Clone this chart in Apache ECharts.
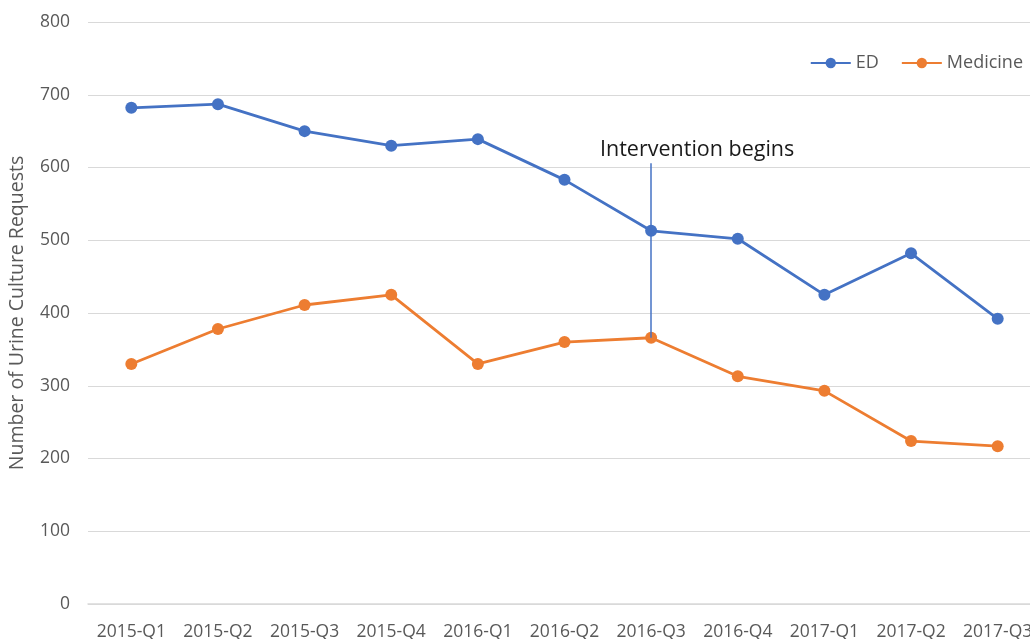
<!DOCTYPE html>
<html>
<head>
<meta charset="utf-8">
<script src="https://cdn.jsdelivr.net/npm/echarts@6/dist/echarts.min.js"></script>
<style>
  html, body { margin: 0; padding: 0; background: #fff; }
  #main { width: 1030px; height: 639px; }
</style>
</head>
<body>
<div id="main"></div>
<script>
// quarters on the x axis
const quarters = ['2015-Q1', '2015-Q2', '2015-Q3', '2015-Q4', '2016-Q1', '2016-Q2',
  '2016-Q3', '2016-Q4', '2017-Q1', '2017-Q2', '2017-Q3'];
// urine culture requests
const edValues = [682, 687, 650, 630, 639, 583, 513, 502, 425, 482, 392];
const medicineValues = [330, 378, 411, 425, 330, 360, 366, 313, 293, 224, 217];
// intervention marker
const interventionIndex = 6;
const interventionTop = 606;
const interventionText = 'Intervention begins';

const font = 'Open Sans';
let myChart = echarts.init(document.getElementById('main'));
let option = {
  animation: false,
  textStyle: { fontFamily: font },
  legend: {
    right: 2,
    top: 49,
    itemWidth: 40,
    itemHeight: 13,
    itemGap: 22,
    textStyle: { fontSize: 18, color: '#595959', fontFamily: font },
    data: ['ED', 'Medicine']
  },
  grid: { left: 88, top: 22, width: 953, bottom: 35, outerBoundsMode: 'none', containLabel: false },
  xAxis: {
    type: 'category',
    data: quarters,
    boundaryGap: true,
    axisLine: { lineStyle: { color: '#d9d9d9', width: 1.5 } },
    axisTick: { show: false },
    axisLabel: { color: '#595959', fontSize: 17.5, margin: 19, fontFamily: font, interval: 0 }
  },
  yAxis: {
    type: 'value',
    min: 0,
    max: 800,
    interval: 100,
    name: 'Number of Urine Culture Requests',
    nameLocation: 'middle',
    nameGap: 61,
    nameTextStyle: { color: '#595959', fontSize: 19.5, fontFamily: font },
    axisLine: { show: false },
    axisTick: { show: false },
    axisLabel: { color: '#595959', fontSize: 17.5, margin: 18, fontFamily: font },
    splitLine: { lineStyle: { color: '#d9d9d9', width: 1.2 } }
  },
  series: [
    {
      name: 'ED',
      type: 'line',
      data: edValues,
      symbol: 'circle',
      symbolSize: 12,
      itemStyle: { color: '#4472C4' },
      lineStyle: { color: '#4472C4', width: 2.8 },
      z: 3,
      markLine: {
        silent: true,
        symbol: 'none',
        lineStyle: { color: '#4472C4', width: 1.5, type: 'solid' },
        label: {
          show: true,
          position: 'end',
          formatter: interventionText,
          color: '#1a1a1a',
          fontSize: 21.5,
          fontFamily: font,
          offset: [46, 3]
        },
        data: [[
          { coord: [interventionIndex, medicineValues[interventionIndex]] },
          { coord: [interventionIndex, interventionTop] }
        ]]
      }
    },
    {
      name: 'Medicine',
      type: 'line',
      data: medicineValues,
      symbol: 'circle',
      symbolSize: 12,
      itemStyle: { color: '#ED7D31' },
      lineStyle: { color: '#ED7D31', width: 2.8 },
      z: 2
    }
  ]
};
myChart.setOption(option);
</script>
</body>
</html>
